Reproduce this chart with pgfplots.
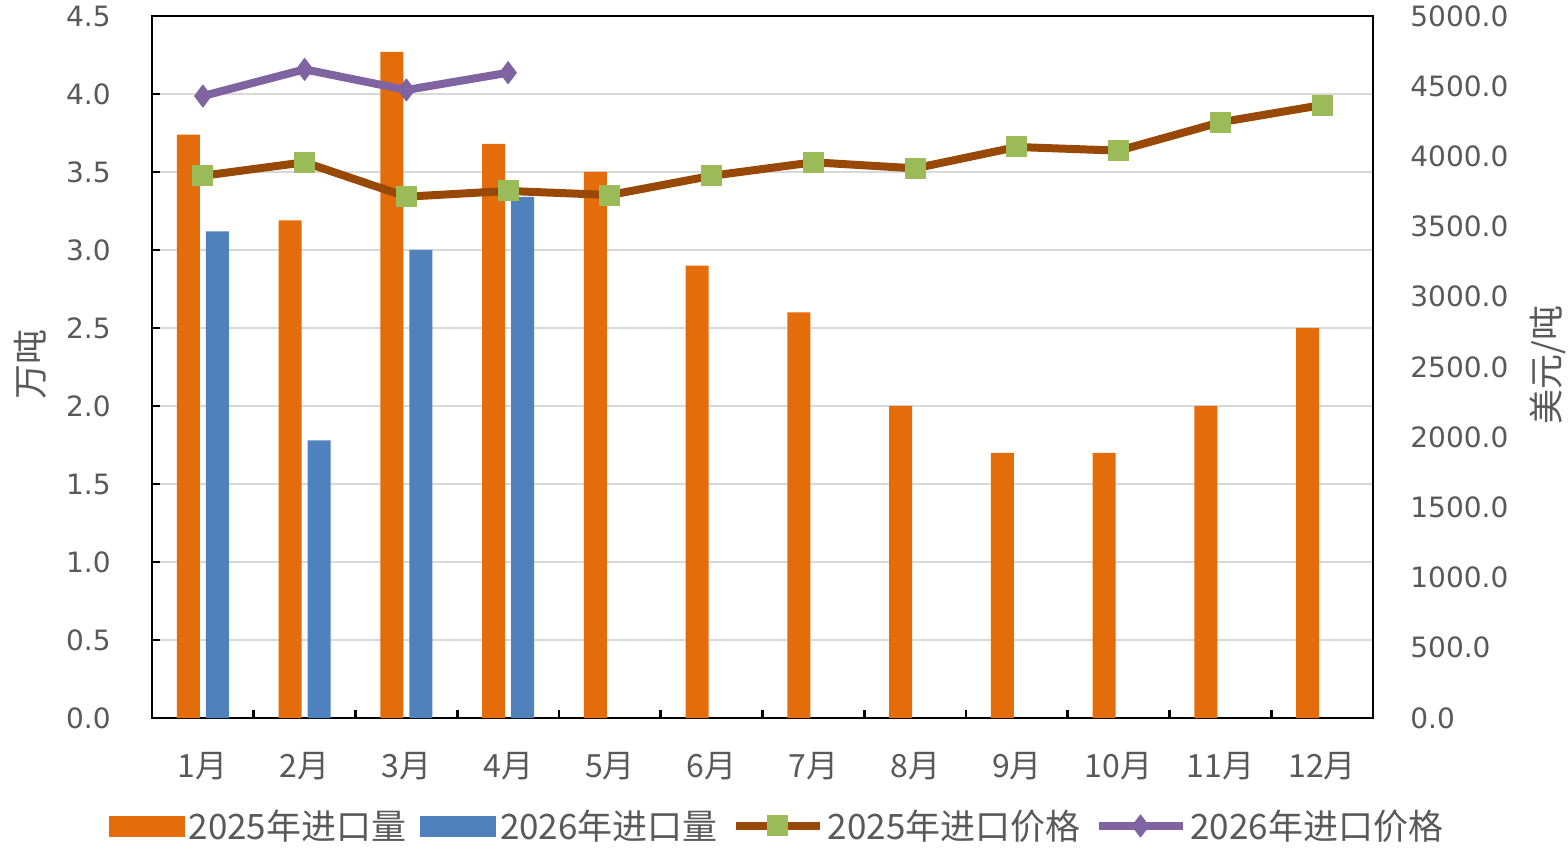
\documentclass[border=0pt]{standalone}
\usepackage{pgfplots}
\pgfplotsset{compat=1.18}
\usepackage{fontspec}
\setmainfont{DejaVu Sans}
\newfontfamily\cjk{Noto Sans CJK SC}
\definecolor{c25}{HTML}{E46C0A}
\definecolor{c26}{HTML}{4F81BD}
\definecolor{p25}{HTML}{984807}
\definecolor{m25}{HTML}{9BBB59}
\definecolor{p26}{HTML}{8064A2}
\definecolor{txt}{HTML}{595959}
\definecolor{grd}{HTML}{D9D9D9}
\pgfplotsset{
  lineleg/.style={legend image code/.code={\draw[mark repeat=2,mark phase=2,##1] plot coordinates {(0pt,0pt)(21pt,0pt)(42pt,0pt)};}},
  barleg/.style={legend image code/.code={\fill[#1] (0pt,-5pt) rectangle (37.5pt,5pt);}},
}
\begin{document}
\begin{tikzpicture}
\useasboundingbox (0,0) rectangle (784pt,423.5pt);
\begin{axis}[
  at={(76pt,64.5pt)}, anchor=south west,
  scale only axis, width=610.5pt, height=351pt,
  xmin=0.5, xmax=12.5, ymin=0, ymax=4.5,
  xtick={1,2,3,4,5,6,7,8,9,10,11,12},
  xticklabels={1月,2月,3月,4月,5月,6月,7月,8月,9月,10月,11月,12月},
  xticklabel style={font=\cjk\fontsize{16}{16}\selectfont, text=txt, anchor=center, inner sep=0pt, yshift=-24pt},
  major x tick style={draw=none},
  minor xtick={1.5,2.5,3.5,4.5,5.5,6.5,7.5,8.5,9.5,10.5,11.5},
  ytick={0,0.5,1,1.5,2,2.5,3,3.5,4,4.5},
  yticklabel style={font=\fontsize{14}{14}\selectfont, text=txt, anchor=east, inner sep=0pt, xshift=-20.5pt,
    /pgf/number format/.cd, fixed, fixed zerofill, precision=1, assume math mode=true},
  tick align=inside,
  major tick length=4pt, minor tick length=4pt,
  every tick/.style={black, line width=1.3pt},
  ytick pos=left, xtick pos=bottom,
  ymajorgrids, grid style={grd, line width=1pt},
  axis line style={black, line width=1.3pt},
  ylabel={\cjk 万吨},
  every axis y label/.style={at={(axis description cs:-0.0995,0.503)}, rotate=90, anchor=center, font=\fontsize{17.5}{17.5}\selectfont, text=txt},
]
\addplot[ybar, bar width=11.5pt, bar shift=-7.2pt, fill=c25, draw=none] coordinates {
(1,3.74)(2,3.19)(3,4.27)(4,3.68)(5,3.5)(6,2.9)(7,2.6)(8,2.0)(9,1.7)(10,1.7)(11,2.0)(12,2.5)};
\addplot[ybar, bar width=11.5pt, bar shift=7.2pt, fill=c26, draw=none] coordinates {
(1,3.12)(2,1.78)(3,3.0)(4,3.34)};
\end{axis}
\begin{axis}[
  at={(76pt,64.5pt)}, anchor=south west,
  scale only axis, width=610.5pt, height=351pt,
  xmin=0.5, xmax=12.5, ymin=0, ymax=5000,
  axis x line=none,
  axis y line*=right,
  axis line style={black, line width=1.3pt},
  ytick={0,500,1000,1500,2000,2500,3000,3500,4000,4500,5000},
  major tick length=0pt,
  yticklabel style={font=\fontsize{14}{14}\selectfont, text=txt, anchor=west, inner sep=0pt, xshift=18.5pt,
    /pgf/number format/.cd, fixed, fixed zerofill, precision=1, 1000 sep={}, assume math mode=true},
  ylabel={\cjk 美元/吨},
  every axis y label/.style={at={(axis description cs:1.1433,0.503)}, rotate=90, anchor=center, font=\fontsize{17.5}{17.5}\selectfont, text=txt},
  legend style={at={(axis description cs:0.5127,-0.1538)}, anchor=center, draw=none, fill=none,
    legend columns=4, font=\cjk\fontsize{17.5}{17.5}\selectfont, text=txt,
    /tikz/every even column/.append style={column sep=5pt}, inner sep=0pt, nodes={inner sep=2pt}},
]
\addlegendimage{barleg=c25}
\addlegendentry{2025年进口量}
\addlegendimage{barleg=c26}
\addlegendentry{2026年进口量}
\addplot[p25, line width=4pt, line join=round, mark=square*, mark size=5pt, mark options={fill=m25, draw=m25, line width=0.5pt}, lineleg]
coordinates {(1,3862)(2,3958)(3,3713)(4,3754)(5,3725)(6,3862)(7,3958)(8,3915)(9,4067)(10,4041)(11,4243)(12,4366)};
\addlegendentry{2025年进口价格}
\addplot[p26, line width=4pt, line join=round, mark=diamond*, mark size=5.5pt, mark options={fill=p26, draw=p26, line width=0.5pt}, lineleg]
coordinates {(1,4430)(2,4620)(3,4473)(4,4596)};
\addlegendentry{2026年进口价格}
\end{axis}
\end{tikzpicture}
\end{document}
